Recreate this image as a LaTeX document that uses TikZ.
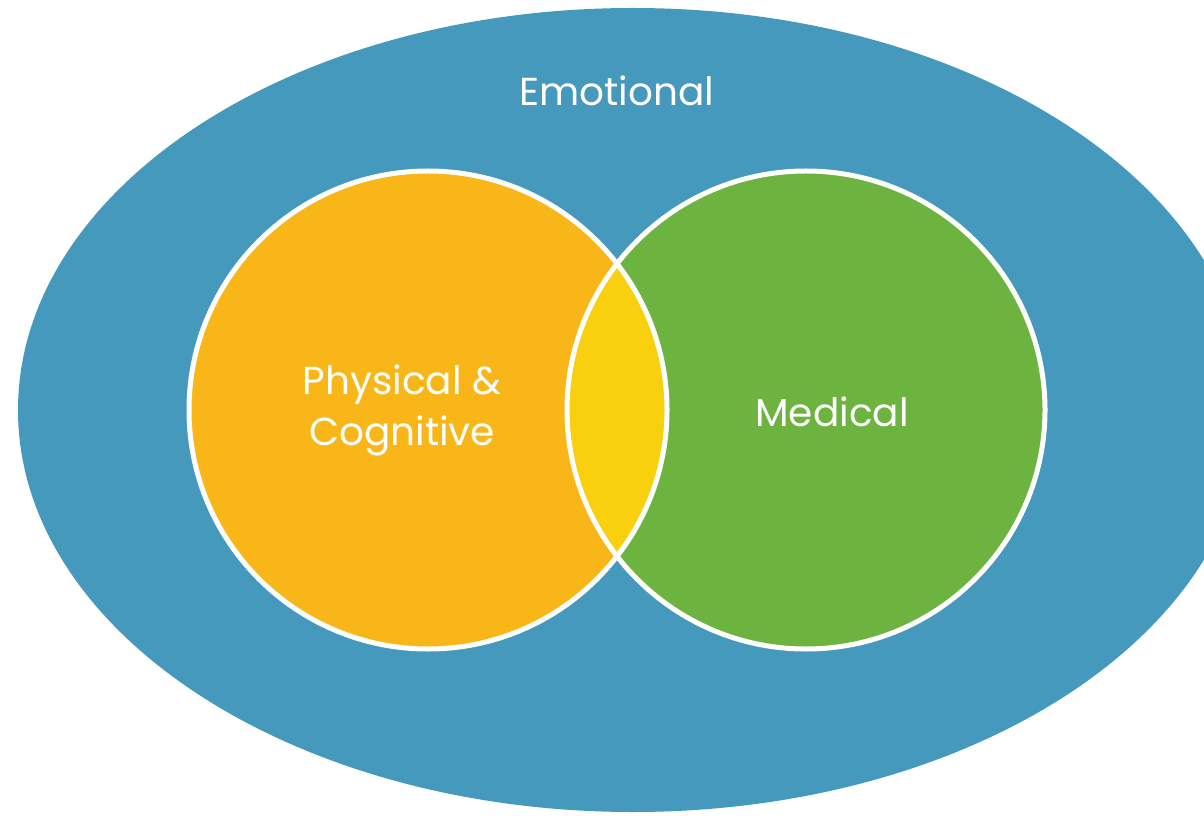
\documentclass[tikz,border=0pt]{standalone}
\usepackage{fontspec}
\setmainfont{Poppins}
\definecolor{emoblue}{HTML}{4599BC}
\definecolor{physorange}{HTML}{F9B619}
\definecolor{medgreen}{HTML}{6DB33F}
\definecolor{lensyellow}{HTML}{F8D00E}
\tikzset{
  ring/.style={draw=white,line width=5pt},
  label/.style={text=white,font=\fontsize{39}{51}\selectfont,align=center,inner sep=0pt}
}
\begin{document}
\begin{tikzpicture}[x=1pt,y=1pt]
		\useasboundingbox (0,0) rectangle (1204,815);
		\clip (0,0) rectangle (1204,815);
		\fill[emoblue] (633,405) ellipse[x radius=615,y radius=402];
		\coordinate (pc) at (428,405);
		\coordinate (mc) at (806,405);
		\fill[physorange] (pc) circle[radius=239];
		\fill[medgreen] (mc) circle[radius=239];
		\begin{scope}
		\clip (pc) circle[radius=239];
		\fill[lensyellow] (mc) circle[radius=239];
		\end{scope}
		\draw[ring] (pc) circle[radius=239];
		\draw[ring] (mc) circle[radius=239];
		\node[label] (emo) at (617,724) {Emotional};
		\node[label] (phys) at (402,405) {Physical \&\\Cognitive};
		\node[label] (med) at (832,403) {Medical};
\end{tikzpicture}
\end{document}
